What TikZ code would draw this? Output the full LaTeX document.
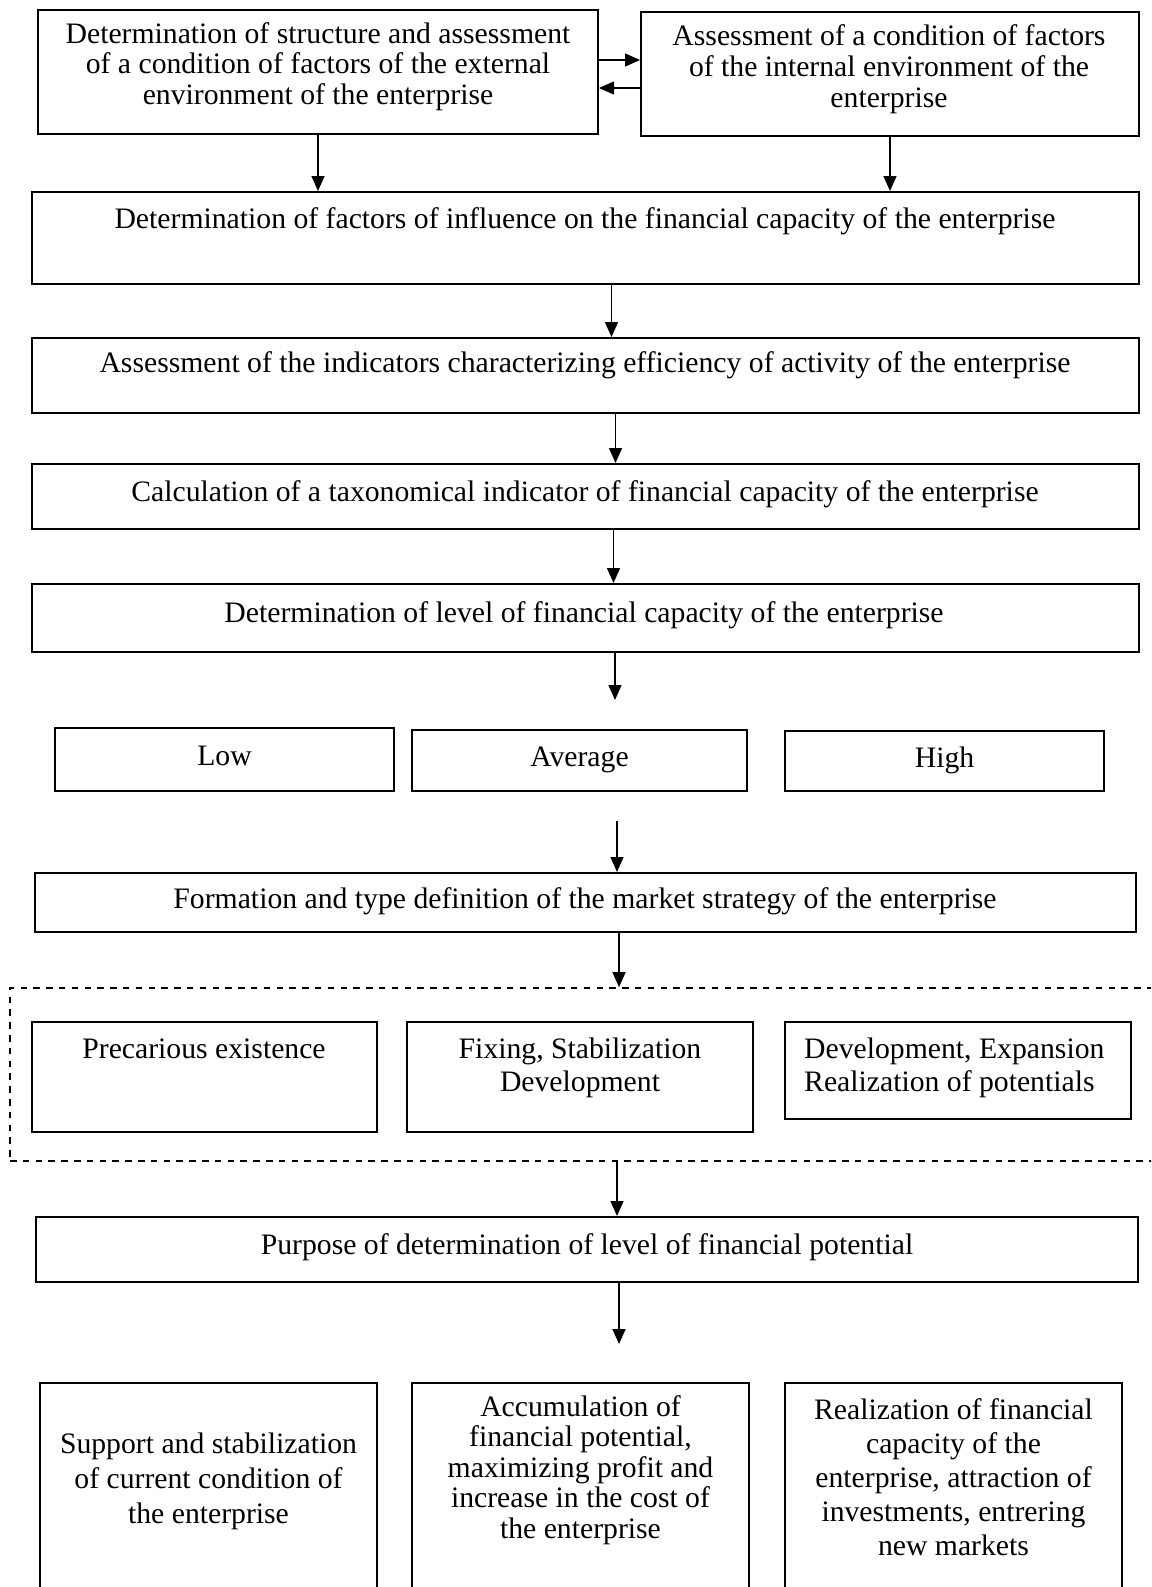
\documentclass[tikz,border=0pt]{standalone}
\usepackage{fontspec}
\setmainfont{Liberation Serif}
\usetikzlibrary{arrows.meta}
\newcommand\mkbox[6][]{%
  \node[box,#1,minimum width={(#5)-(#3)},minimum height={(#6)-(#4)}] (#2) at ({((#3)+(#5))/2},{((#4)+(#6))/2}) {};}
\begin{document}
\begin{tikzpicture}[x=1pt,y=-1pt,
  box/.style={draw, line width=2pt, inner sep=0pt},
  dbox/.style={draw, line width=1.7pt, dash pattern=on 6.5pt off 6.3pt},
  arr/.style={-{Triangle[length=15pt,width=13pt]}, line width=1.5pt},
  txt/.style={font=\fontsize{29.7}{31}\selectfont, inner sep=0pt, align=center, anchor=base}]
\useasboundingbox (0,0) rectangle (1151,1587);
\clip (0,0) rectangle (1151,1587);
% boxes
\mkbox{b1}{38}{10}{598}{134}
\mkbox{b2}{641}{12}{1139}{136}
\mkbox{b3}{32}{192}{1139}{284}
\mkbox{b4}{32}{338}{1139}{413}
\mkbox{b5}{32}{464}{1139}{529}
\mkbox{b6}{32}{584}{1139}{652}
\mkbox{low}{55}{728}{394}{791}
\mkbox{avg}{412}{730}{747}{791}
\mkbox{high}{785}{731}{1104}{791}
\mkbox{strat}{35}{873}{1136}{932}
\node[dbox, inner sep=0pt, minimum width=1170, minimum height=173] (dash) at (595,1074.5) {};
\mkbox{prec}{32}{1022}{377}{1132}
\mkbox{fix}{407}{1022}{753}{1132}
\mkbox{dev}{785}{1022}{1131}{1119}
\mkbox{purp}{36}{1217}{1138}{1282}
\mkbox{sup}{40}{1383}{377}{1620}
\mkbox{acc}{412}{1383}{749}{1620}
\mkbox{real}{785}{1383}{1122}{1620}
% texts (multi-line nodes: base = last line)
\node[txt, font=\fontsize{29.7}{30.5}\selectfont] (t1) at (318,104) {Determination of structure and assessment\\of a condition of factors of the external\\environment of the enterprise};
\node[txt] (t2) at (889,107) {Assessment of a condition of factors\\of the internal environment of the\\enterprise};
\node[txt] (t3) at (585,228) {Determination of factors of influence on the financial capacity of the enterprise};
\node[txt] (t4) at (585,372) {Assessment of the indicators characterizing efficiency of activity of the enterprise};
\node[txt] (t5) at (585,501) {Calculation of a taxonomical indicator of financial capacity of the enterprise};
\node[txt] (t6) at (584,622) {Determination of level of financial capacity of the enterprise};
\node[txt] (tlow) at (224.5,765) {Low};
\node[txt] (tavg) at (579.5,766) {Average};
\node[txt] (thigh) at (944.5,767) {High};
\node[txt] (tstrat) at (585,908) {Formation and type definition of the market strategy of the enterprise};
\node[txt] (tprec) at (204,1058) {Precarious existence};
\node[txt, font=\fontsize{29.7}{33}\selectfont] (tfix) at (580,1091) {Fixing, Stabilization\\Development};
\node[txt, font=\fontsize{29.7}{33}\selectfont, align=left, anchor=base west] (tdev) at (804,1091) {Development, Expansion\\Realization of potentials};
\node[txt] (tpurp) at (587,1254) {Purpose of determination of level of financial potential};
\node[txt, font=\fontsize{29.7}{35}\selectfont] (tsup) at (208.5,1523) {Support and stabilization\\of current condition of\\the enterprise};
\node[txt, font=\fontsize{29.7}{30.5}\selectfont] (tacc) at (580.5,1538) {Accumulation of\\financial potential,\\maximizing profit and\\increase in the cost of\\the enterprise};
\node[txt, font=\fontsize{29.7}{34}\selectfont] (treal) at (953.5,1555) {Realization of financial\\capacity of the\\enterprise, attraction of\\investments, entrering\\new markets};
% free ends
\coordinate (e6) at (615,700);
\coordinate (s7) at (617,821);
\coordinate (e9) at (619,1344);
% connectors
\draw[arr] ([yshift=12pt]b1.east) -- ([yshift=12pt]b1.east -| b2.west);
\draw[arr] ([yshift=-16pt]b1.east -| b2.west) -- ([yshift=-16pt]b1.east);
\draw[arr] (b1.south) -- (b1.south |- b3.north);
\draw[arr] (b2.south) -- (b2.south |- b3.north);
\draw[arr] ([xshift=26pt]b3.south) -- ([xshift=26pt]b3.south |- b4.north);
\draw[arr] ([xshift=30pt]b4.south) -- ([xshift=30pt]b4.south |- b5.north);
\draw[arr] ([xshift=28pt]b5.south) -- ([xshift=28pt]b5.south |- b6.north);
\draw[arr] (e6 |- b6.south) -- (e6);
\draw[arr] (s7) -- (s7 |- strat.north);
\draw[arr] (e9 |- strat.south) -- (e9 |- dash.north);
\draw[arr] (s7 |- dash.south) -- (s7 |- purp.north);
\draw[arr] (e9 |- purp.south) -- (e9);
\end{tikzpicture}
\end{document}
